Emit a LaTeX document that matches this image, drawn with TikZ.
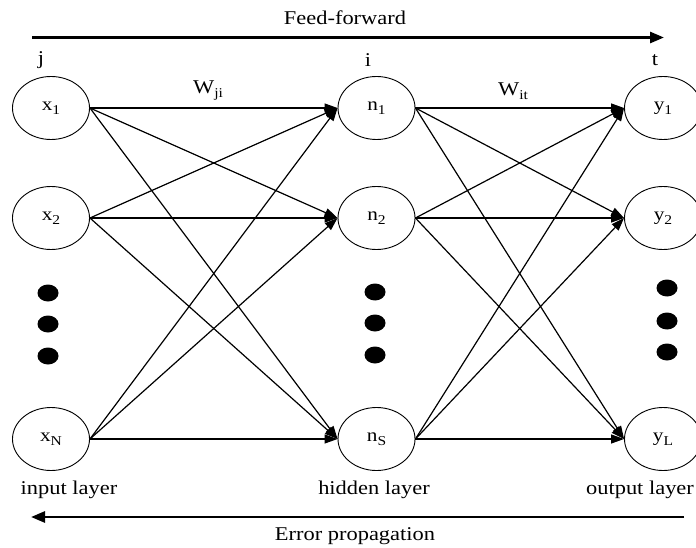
\documentclass[tikz,border=0pt]{standalone}
\usepackage{fontspec}
\setmainfont[FakeStretch=1.15]{Liberation Serif}
\usetikzlibrary{shapes.geometric,arrows.meta}
\newcommand\lsub[1]{\raisebox{-0.45ex}{\fontsize{13.5}{13.5}\selectfont #1}}
\begin{document}
\begin{tikzpicture}[x=1pt,y=-1pt,
  neuron/.style={draw,ellipse,line width=0.9pt,minimum width=77pt,minimum height=63pt,inner sep=0pt,font=\fontsize{18.5}{18.5}\selectfont},
  link/.style={line width=1.2pt,-{Triangle[length=13pt,width=9pt]}},
  flow/.style={line width=2.7pt,-{Triangle[length=14pt,width=11pt]}},
  txt/.style={font=\fontsize{19.5}{19.5}\selectfont,inner sep=0pt},
  dotmark/.style={fill=black}]
\useasboundingbox (0,0) rectangle (696,548);
\clip (0,0) rectangle (696,548);
\fill[white] (0,0) rectangle (696,548);

% input layer
\node[neuron] (x1) at (51,108) {x\lsub{1}};
\node[neuron] (x2) at (51,218) {x\lsub{2}};
\node[neuron] (xN) at (51,439) {x\lsub{N}};
% hidden layer
\node[neuron] (n1) at (376.5,108) {n\lsub{1}};
\node[neuron] (n2) at (376.5,218) {n\lsub{2}};
\node[neuron] (nS) at (376.5,439) {n\lsub{S}};
% output layer
\node[neuron] (y1) at (663,108) {y\lsub{1}};
\node[neuron] (y2) at (663,218) {y\lsub{2}};
\node[neuron] (yL) at (663,439) {y\lsub{L}};

% ellipsis dots
\foreach \yy in {293,324,356} \fill[dotmark] (48,\yy) ellipse [x radius=10.5, y radius=8.5];
\foreach \yy in {292,323,355} \fill[dotmark] (375,\yy) ellipse [x radius=10.5, y radius=8.5];
\foreach \yy in {288,321,352} \fill[dotmark] (667,\yy) ellipse [x radius=10.5, y radius=8.5];

% full connections input -> hidden -> output
\foreach \s in {x1,x2,xN}
  \foreach \t in {n1,n2,nS}
    \draw[link] (\s.east) -- (\t.west);
\foreach \s in {n1,n2,nS}
  \foreach \t in {y1,y2,yL}
    \draw[link] (\s.east) -- (\t.west);

% index and weight labels
\node[txt] (lj) at (41,60) {j};
\node[txt] (li) at (368,60) {i};
\node[txt] (lt) at (655,60) {t};
\node[txt] (wji) at (208,91) {W\lsub{ji}};
\node[txt] (wit) at (513,91) {W\lsub{it}};

% layer names
\node[txt] (inl) at (69,490) {input layer};
\node[txt] (hdl) at (374,490) {hidden layer};
\node[txt] (oul) at (640,490) {output layer};

% direction arrows
\coordinate (ffa) at (32,37.5);
\coordinate (ffb) at (664,37.5);
\draw[flow] (ffa) -- (ffb);
\node[txt] (ff) at (345,18) {Feed-forward};
\coordinate (epa) at (684,517);
\coordinate (epb) at (31,517);
\draw[flow] (epa) -- (epb);
\node[txt] (ep) at (355,536) {Error propagation};
\end{tikzpicture}
\end{document}
